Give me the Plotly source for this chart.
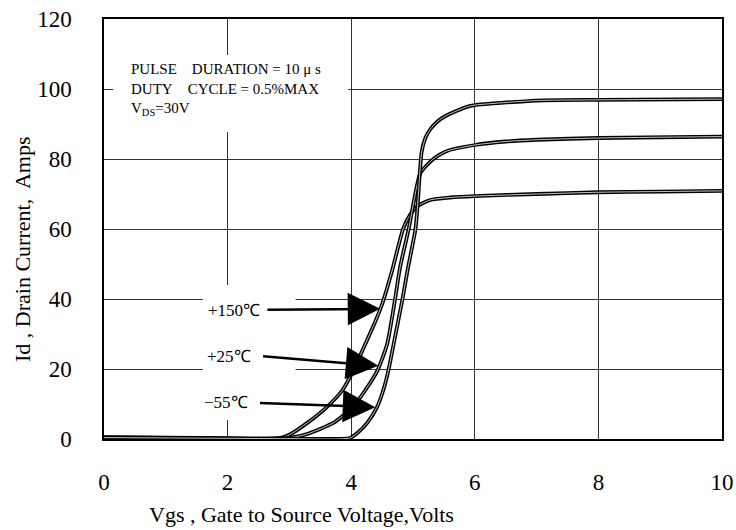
import plotly.graph_objects as go

# --- data ---
vgs_150 = [0, 1, 2, 2.6, 2.86, 3.0, 3.29, 3.61, 3.86, 4.03, 4.2, 4.4, 4.5, 4.66, 4.84, 4.95, 5.07, 5.28, 5.6, 6.0, 7, 8, 9, 10]
id_150 = [0.5, 0.4, 0.2, 0.0, 0.3, 1.2, 4.6, 9.2, 14, 19.4, 26, 34, 38.5, 48, 60, 64, 66.5, 68.3, 69, 69.4, 70, 70.5, 70.7, 70.9]

vgs_25 = [0, 1, 2, 2.7, 3.01, 3.3, 3.71, 4.03, 4.23, 4.42, 4.58, 4.71, 4.79, 4.93, 5.02, 5.12, 5.33, 5.55, 6.0, 6.5, 7, 8, 10]
id_25 = [0.4, 0.3, 0.2, 0.0, 0.3, 1.5, 4.6, 9.2, 14, 19.4, 27, 40, 49, 60, 68.5, 76, 80, 82.3, 84, 85, 85.5, 86, 86.4]

vgs_m55 = [0, 1, 2, 3, 3.98, 4.1, 4.26, 4.42, 4.52, 4.6, 4.68, 4.83, 4.92, 5.04, 5.08, 5.11, 5.14, 5.2, 5.28, 5.4, 5.55, 5.87, 6, 7, 8, 10]
id_m55 = [0.4, 0.3, 0.2, 0.1, 0.3, 1.7, 4.6, 9.2, 14, 19.4, 26.5, 40, 49, 60, 68, 76, 82, 86, 88.5, 90.8, 92.5, 94.9, 95.4, 96.7, 96.9, 97.1]

x_ticks = [0, 2, 4, 6, 8, 10]
y_ticks = [0, 20, 40, 60, 80, 100, 120]

FONT = "Liberation Serif, Times New Roman, serif"

fig = go.Figure()

# each curve is drawn as a "double line": black stroke with a thin light core
for xs, ys in [(vgs_150, id_150), (vgs_25, id_25), (vgs_m55, id_m55)]:
    fig.add_trace(go.Scatter(x=xs, y=ys, mode="lines",
                             line=dict(color="black", width=3.8, shape="spline", smoothing=0.6),
                             hoverinfo="skip"))
    fig.add_trace(go.Scatter(x=xs, y=ys, mode="lines",
                             line=dict(color="#dddddd", width=0.9, shape="spline", smoothing=0.6),
                             hoverinfo="skip"))

# white boxes behind the texts (they cut the grid lines)
fig.add_shape(type="rect", x0=0.15, x1=3.95, y0=87.7, y1=109.7, xref="x", yref="y",
              fillcolor="white", line_width=0, layer="between")
fig.add_shape(type="rect", x0=1.6, x1=3.1, y0=5.4, y1=44, xref="x", yref="y",
              fillcolor="white", line_width=0, layer="between")

notes = ["PULSE\u00a0\u00a0\u00a0\u00a0DURATION = 10 μ s",
         "DUTY\u00a0\u00a0\u00a0\u00a0CYCLE = 0.5%MAX",
         "V<sub>DS</sub>=30V"]
for txt, yv in zip(notes, [105.7, 100, 94.3]):
    fig.add_annotation(x=0.4, y=yv, text=txt, showarrow=False, xanchor="left",
                       font=dict(family=FONT, size=15, color="black"))

# temperature labels with arrows
labels = ["+150℃", "+25℃", "−55℃"]
label_pos = [(2.1, 36.6), (2.03, 23.6), (1.98, 10.3)]
arrow_tail = [(2.62, 36.9), (2.55, 23.7), (2.5, 10.3)]
arrow_tip = [(4.47, 37.2), (4.44, 20.9), (4.39, 9.1)]

for lab, (lx, ly), (tx, ty), (hx, hy) in zip(labels, label_pos, arrow_tail, arrow_tip):
    fig.add_annotation(x=lx, y=ly, text=lab, showarrow=False,
                       font=dict(family=FONT, size=17, color="black"))
    fig.add_annotation(x=hx, y=hy, ax=tx, ay=ty, xref="x", yref="y", axref="x", ayref="y",
                       text="", showarrow=True, arrowhead=2, arrowsize=2.6, arrowwidth=2.5,
                       arrowcolor="black", standoff=0)

# axis titles, placed by hand like the reference
fig.add_annotation(text="Vgs , Gate to Source Voltage,Volts", x=0.32, y=-0.179,
                   xref="paper", yref="paper", showarrow=False, xanchor="center", yanchor="middle",
                   font=dict(family=FONT, size=22, color="black"))
fig.add_annotation(text="Id , Drain Current,  Amps", x=-0.133, y=0.452,
                   xref="paper", yref="paper", showarrow=False, textangle=-90,
                   xanchor="center", yanchor="middle",
                   font=dict(family=FONT, size=22, color="black"))

axis_common = dict(showline=True, mirror=True, linecolor="black", linewidth=1.5,
                   showgrid=True, gridcolor="#333333", gridwidth=1, zeroline=False,
                   ticks="", automargin=False,
                   tickfont=dict(family=FONT, size=23, color="black"))

fig.update_layout(
    width=736, height=530,
    margin=dict(l=104, r=14, t=19, b=91),
    paper_bgcolor="white", plot_bgcolor="white",
    showlegend=False,
    xaxis=dict(range=[0, 10], tickvals=x_ticks, ticklabelstandoff=22, **axis_common),
    yaxis=dict(range=[0, 120], tickvals=y_ticks, ticklabelstandoff=26, **axis_common),
)

fig.write_html("out.html", config={"displayModeBar": False},
               post_script="document.body.style.margin='0';")
